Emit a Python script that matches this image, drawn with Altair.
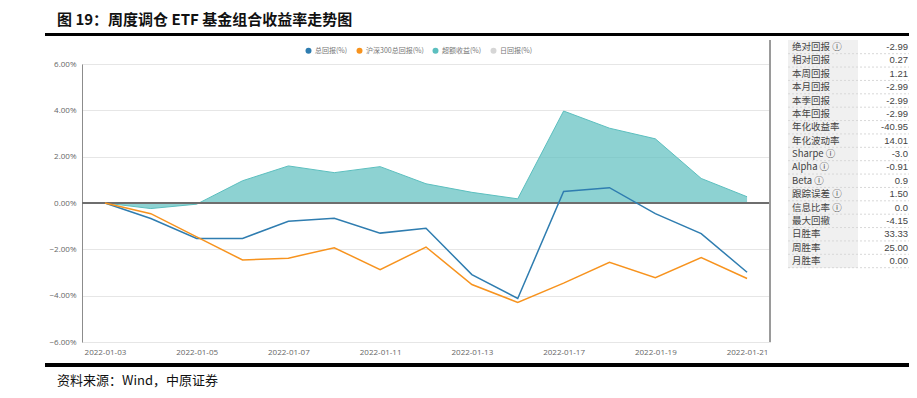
import altair as alt
import pandas as pd

dates = ["2022-01-03", "2022-01-04", "2022-01-05", "2022-01-06", "2022-01-07",
         "2022-01-10", "2022-01-11", "2022-01-12", "2022-01-13", "2022-01-14",
         "2022-01-17", "2022-01-18", "2022-01-19", "2022-01-20", "2022-01-21"]
total_ret = [0, -0.67, -1.53, -1.53, -0.79, -0.66, -1.30, -1.09, -3.09, -4.12,
             0.50, 0.66, -0.46, -1.32, -2.99]
hs300_ret = [0, -0.46, -1.46, -2.46, -2.38, -1.93, -2.88, -1.90, -3.52, -4.29,
             -3.46, -2.56, -3.22, -2.36, -3.26]
excess_ret = [0, -0.24, -0.05, 0.96, 1.60, 1.31, 1.57, 0.83, 0.46, 0.18,
              3.97, 3.23, 2.77, 1.06, 0.27]

x_labels = ["2022-01-03", "2022-01-05", "2022-01-07", "2022-01-11",
            "2022-01-13", "2022-01-17", "2022-01-19", "2022-01-21"]
y_ticks = [-6, -4, -2, 0, 2, 4, 6]

series_names = ["总回报(%)", "沪深300总回报(%)", "超额收益(%)", "日回报(%)"]
series_colors = ["#2f7db0", "#f7931e", "#5cbfbf", "#d6d6d6"]

table_labels = ["绝对回报 ⓘ", "相对回报", "本周回报", "本月回报", "本季回报", "本年回报",
                "年化收益率", "年化波动率", "Sharpe ⓘ", "Alpha ⓘ", "Beta ⓘ",
                "跟踪误差 ⓘ", "信息比率 ⓘ", "最大回撤", "日胜率", "周胜率", "月胜率"]
table_values = ["-2.99", "0.27", "1.21", "-2.99", "-2.99", "-2.99", "-40.95", "14.01",
                "-3.0", "-0.91", "0.9", "1.50", "0.0", "-4.15", "33.33", "25.00", "0.00"]

title_text = "图 19：周度调仓 ETF 基金组合收益率走势图"
source_text = "资料来源：Wind，中原证券"

lines_df = pd.DataFrame({
    "date": dates * 2,
    "series": [series_names[0]] * len(dates) + [series_names[1]] * len(dates),
    "value": total_ret + hs300_ret,
})
area_df = pd.DataFrame({"date": dates, "series": series_names[2], "value": excess_ret})
table_df = pd.DataFrame({"label": table_labels, "val": table_values})

W, H = 688, 278

legend = alt.Legend(
    orient="none", legendX=223, legendY=-17, direction="horizontal", title=None,
    symbolType="circle", symbolSize=36, symbolOpacity=1, symbolStrokeWidth=0,
    labelFontSize=7, labelColor="#777777", labelOffset=3,
    labelFont="Noto Sans CJK SC", columnPadding=8,
)
color_scale = alt.Scale(domain=series_names, range=series_colors)

x_enc = alt.X("date:O", scale=alt.Scale(type="point", padding=0.5, domain=dates),
              axis=alt.Axis(values=x_labels, labelAngle=0, ticks=False, domain=False,
                            grid=False, title=None, labelFontSize=8, labelColor="#666666",
                            labelFont="Open Sans", labelPadding=6))
y_enc = alt.Y("value:Q", scale=alt.Scale(domain=[-6, 6], nice=False, zero=False),
              axis=alt.Axis(values=y_ticks, labelExpr="format(datum.value, '.2f') + '%'",
                            gridColor="#e6e6e6", domainColor="#8c8c8c", ticks=False,
                            title=None, labelFontSize=8, labelColor="#666666",
                            labelFont="Open Sans", labelPadding=6))

area = alt.Chart(area_df).mark_area(opacity=0.7, line={"color": "#62c2c2", "strokeWidth": 1}).encode(
    x=x_enc, y=y_enc, y2=alt.datum(0),
    color=alt.Color("series:N", scale=color_scale, legend=legend),
)
zero = alt.Chart(area_df).mark_rule(color="#6e6e6e", strokeWidth=1).encode(y=alt.datum(0))
lines = alt.Chart(lines_df).mark_line(strokeWidth=1.5).encode(
    x=x_enc, y=y_enc,
    color=alt.Color("series:N", scale=color_scale, legend=legend),
)

right_border = alt.Chart(area_df).mark_rule(color="#9a9a9a", strokeWidth=1).encode(
    x=alt.value(W), y=alt.value(-24), y2=alt.value(H))

# Table on the right
tbl_y = alt.Y("label:N", scale=alt.Scale(type="point", domain=table_labels,
                                        range=[-17, 197], padding=0), axis=None)
tbl_bg = alt.Chart(table_df).mark_rect(color="#f0f0f0").encode(
    x=alt.value(706), x2=alt.value(776), y=alt.value(-24), y2=alt.value(204))
tbl_sep = alt.Chart(table_df).mark_rule(color="#d8d8d8", strokeDash=[2, 2], yOffset=6.7).encode(
    y=tbl_y, x=alt.value(706), x2=alt.value(830))
tbl_lab = alt.Chart(table_df).mark_text(align="left", baseline="middle", fontSize=9.5,
                                        font="Noto Sans CJK SC", color="#444444").encode(
    y=tbl_y, x=alt.value(710), text="label:N")
tbl_val = alt.Chart(table_df).mark_text(align="right", baseline="middle", fontSize=9.5,
                                        font="Liberation Sans", color="#444444").encode(
    y=tbl_y, x=alt.value(826), text="val:N")

# Title, source and heavy rules
title = alt.Chart(pd.DataFrame({"t": [title_text]})).mark_text(
    align="left", baseline="middle", fontSize=15, fontWeight="bold",
    font="Noto Sans CJK SC", color="#111111").encode(
    x=alt.value(-25), y=alt.value(-44), text="t:N")
source = alt.Chart(pd.DataFrame({"t": [source_text]})).mark_text(
    align="left", baseline="middle", fontSize=13, font="Noto Sans CJK SC",
    color="#111111").encode(x=alt.value(-25), y=alt.value(317), text="t:N")
top_rule = alt.Chart(area_df).mark_rule(color="#000000", strokeWidth=3).encode(
    x=alt.value(-37), x2=alt.value(830), y=alt.value(-29.5))
bottom_rule = alt.Chart(area_df).mark_rule(color="#000000", strokeWidth=3).encode(
    x=alt.value(-37), x2=alt.value(830), y=alt.value(301))

main = alt.layer(area, zero, lines, right_border).resolve_scale(color="shared")

chart = alt.layer(
    main, tbl_bg, tbl_sep, tbl_lab, tbl_val, title, source, top_rule, bottom_rule
).resolve_scale(y="independent").properties(
    width=W, height=H,
    padding={"left": 74, "top": 56, "right": 139, "bottom": 48},
    autosize=alt.AutoSizeParams(type="none"),
).configure_view(stroke=None).configure(background="white")

chart.save("out.html", embed_options={"renderer": "svg", "actions": False})
